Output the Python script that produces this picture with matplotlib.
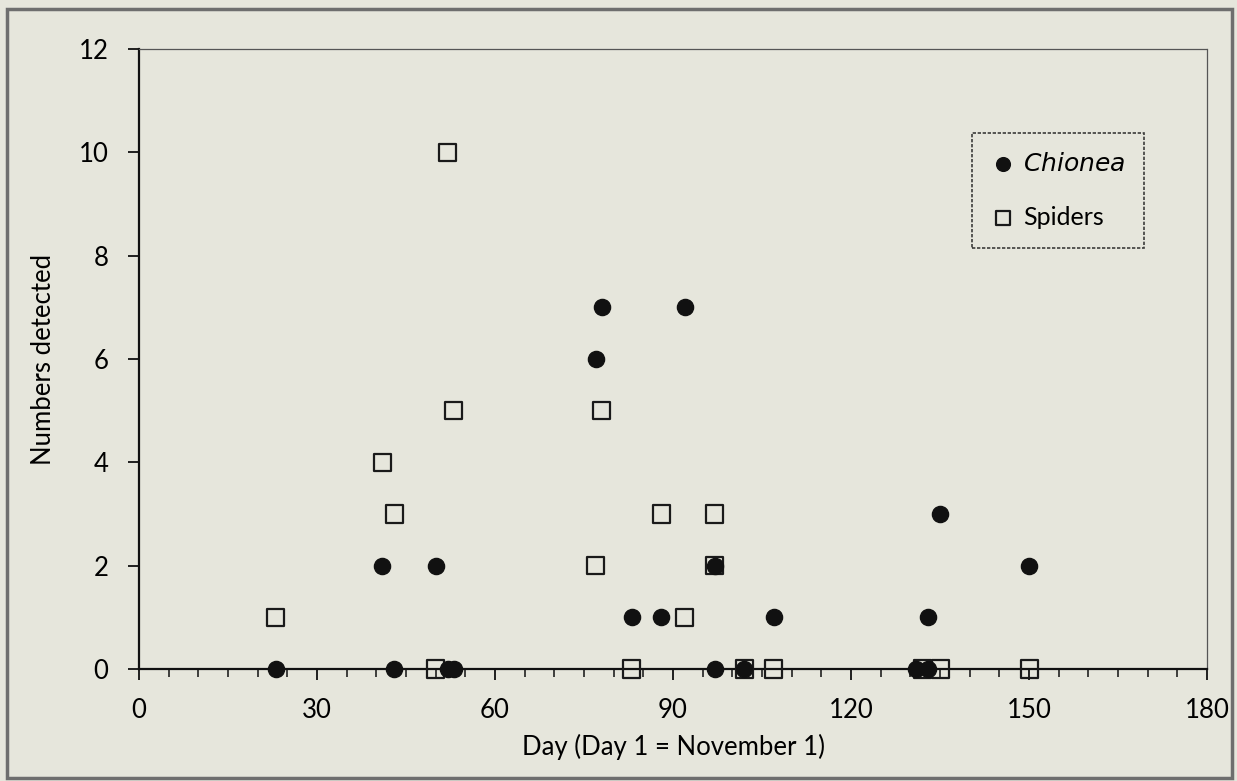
import matplotlib.pyplot as plt
from matplotlib.ticker import MultipleLocator
from matplotlib.patches import Rectangle

# data
chionea_day = [23, 41, 43, 50, 52, 53, 77, 78, 83, 88, 92, 97, 97, 102, 107, 131, 133, 133, 135, 150]
chionea_n = [0, 2, 0, 2, 0, 0, 6, 7, 1, 1, 7, 2, 0, 0, 1, 0, 0, 1, 3, 2]
spider_day = [23, 41, 43, 50, 52, 53, 77, 78, 83, 88, 92, 97, 97, 102, 107, 132, 135, 150]
spider_n = [1, 4, 3, 0, 10, 5, 2, 5, 0, 3, 1, 3, 2, 0, 0, 0, 0, 0]

xticks = [0, 30, 60, 90, 120, 150, 180]
yticks = [0, 2, 4, 6, 8, 10, 12]

bg = '#e6e6dc'
plt.rcParams['font.family'] = ['Lato', 'DejaVu Sans']

fig = plt.figure(figsize=(12.37, 7.81), dpi=100, facecolor=bg)
ax = fig.add_axes([0.1124, 0.1434, 0.8634, 0.7939], facecolor=bg)

# outer frame of the picture
fig.patches.append(Rectangle((0.006, 0.004), 0.99, 0.984, transform=fig.transFigure,
                             fill=False, edgecolor='#6e6e6e', linewidth=2.5))

ax.scatter(spider_day, spider_n, marker='s', s=150, facecolors='none',
           edgecolors='#1a1a1a', linewidths=1.6, zorder=3, clip_on=False, label='Spiders')
ax.scatter(chionea_day, chionea_n, marker='o', s=135, color='#111111',
           zorder=4, clip_on=False, label='$\\it{Chionea}$')

ax.set_xlim(0, 180)
ax.set_ylim(0, 12)
ax.set_xticks(xticks)
ax.set_yticks(yticks)
ax.xaxis.set_minor_locator(MultipleLocator(5))
ax.tick_params(axis='both', which='major', direction='out', length=8, width=1.3,
               labelsize=18.5, color='#111111')
ax.tick_params(axis='x', which='major', pad=13)
ax.tick_params(axis='y', which='major', pad=14)
ax.tick_params(axis='x', which='minor', direction='out', length=6, width=1.1, color='#111111')
ax.tick_params(axis='y', which='minor', left=False)

for side in ['left', 'bottom']:
    ax.spines[side].set_linewidth(1.6)
    ax.spines[side].set_color('#111111')
for side in ['top', 'right']:
    ax.spines[side].set_linewidth(0.9)
    ax.spines[side].set_color('#555555')
    ax.spines[side].set_linestyle((0, (2, 1)))

ax.set_xlabel('Day (Day 1 = November 1)', fontsize=18.5, labelpad=8)
ax.set_ylabel('Numbers detected', fontsize=18.5, labelpad=16)

handles, labels = ax.get_legend_handles_labels()
leg = ax.legend(handles[::-1], labels[::-1], loc='upper right', bbox_to_anchor=(0.953, 0.885),
                fontsize=18, frameon=True, fancybox=False, edgecolor='#111111',
                facecolor=bg, handletextpad=0.3, borderpad=0.75, labelspacing=1.25,
                markerscale=0.85, handlelength=1.0)
leg.get_frame().set_linewidth(1.2)
leg.get_frame().set_linestyle((0, (2, 1)))

fig.savefig('out.png', dpi=100, facecolor=bg)
